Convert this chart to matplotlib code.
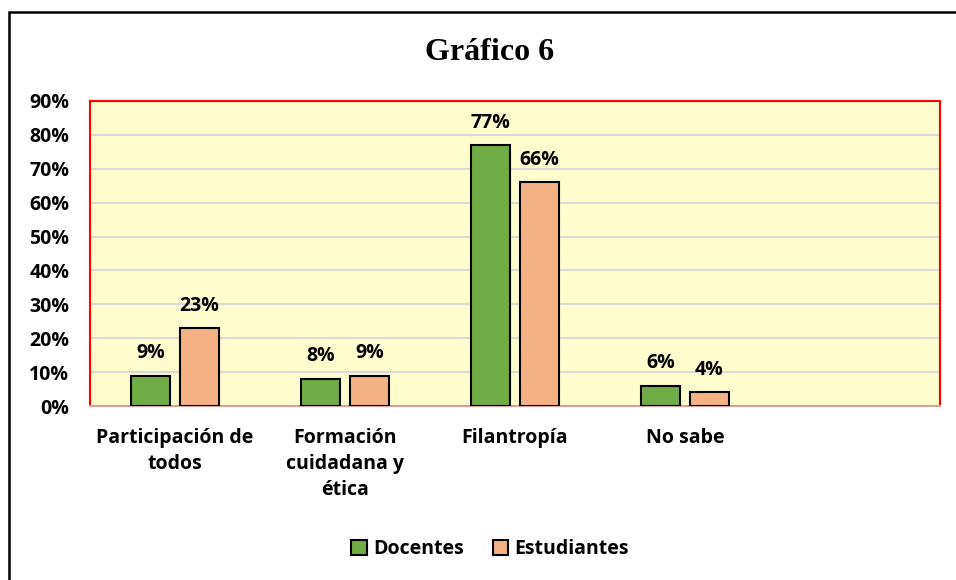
import matplotlib.pyplot as plt
import matplotlib.patches as patches
import numpy as np

categories = ["Participación de\ntodos", "Formación\ncuidadana y\nética", "Filantropía", "No sabe"]
docentes = [9, 8, 77, 6]
estudiantes = [23, 9, 66, 4]
yticks = [0, 10, 20, 30, 40, 50, 60, 70, 80, 90]

plt.rcParams['font.family'] = ['Open Sans', 'DejaVu Sans']

fig = plt.figure(figsize=(9.56, 5.8), dpi=100)
ax = fig.add_axes([90 / 956, 1 - 406 / 580, 850 / 956, 305 / 580])

x = np.arange(len(categories))
w = 0.224
off = 0.144
b1 = ax.bar(x - off, docentes, w, color='#70AD47', edgecolor='black', linewidth=1.5, label='Docentes', zorder=3)
b2 = ax.bar(x + off, estudiantes, w, color='#F4B183', edgecolor='black', linewidth=1.5, label='Estudiantes', zorder=3)

for bars in (b1, b2):
    for r in bars:
        ax.annotate(f"{r.get_height():g}%", (r.get_x() + r.get_width() / 2, r.get_height()),
                    xytext=(0, 9), textcoords='offset points', ha='center', va='bottom',
                    fontsize=14, fontweight='bold')

ax.set_xlim(-0.5, 4.5)
ax.set_ylim(0, 90)
ax.set_yticks(yticks)
ax.set_yticklabels([f"{v}%" for v in yticks], fontsize=14, fontweight='bold')
ax.set_xticks(x)
ax.set_xticklabels(categories, fontsize=14, fontweight='bold', linespacing=1.38, va='top')
ax.tick_params(axis='both', length=0)
ax.tick_params(axis='y', pad=15)
ax.tick_params(axis='x', pad=16)

ax.set_facecolor('#FFFDCD')
ax.grid(axis='y', color='#D9D9D9', linewidth=1.5, zorder=0)
for s in ax.spines.values():
    s.set_color('red')
    s.set_linewidth(1.5)
ax.spines['bottom'].set_color('#D9A0A0')

fig.text(490 / 956, 1 - 53 / 580, "Gráfico 6", family='Liberation Serif', fontsize=23,
         fontweight='bold', ha='center', va='center')

fig.legend(handles=[b1, b2], loc='center', bbox_to_anchor=(490 / 956, 1 - 549 / 580), ncol=2,
           frameon=False, prop={'size': 14, 'weight': 'bold'}, handlelength=0.8, handleheight=0.8,
           handletextpad=0.3, columnspacing=1.5)

border = patches.Rectangle((9 / 956, -0.1), 1.2, 1 - 12 / 580 + 0.1, transform=fig.transFigure,
                           fill=False, edgecolor='black', linewidth=1.8, clip_on=False)
fig.patches.append(border)

fig.savefig('out.png', dpi=100)
